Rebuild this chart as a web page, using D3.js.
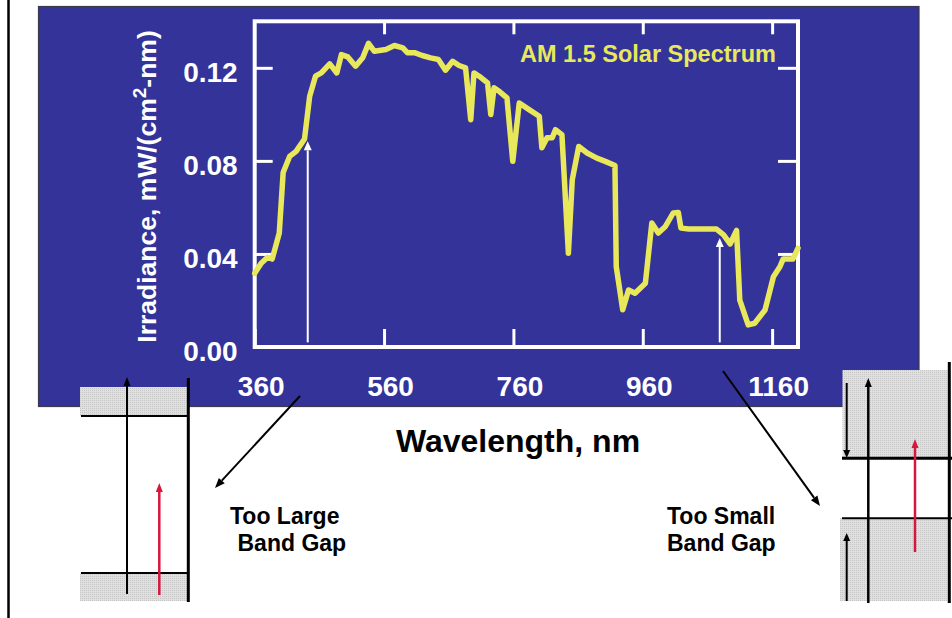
<!DOCTYPE html>
<html>
<head>
<meta charset="utf-8">
<script src="https://cdn.jsdelivr.net/npm/d3@7"></script>
<style>
  html, body { margin: 0; padding: 0; background: #ffffff; }
  svg { display: block; }
  text { font-family: "Liberation Sans", Arial, Helvetica, sans-serif; font-weight: bold; }
</style>
</head>
<body>
<svg id="chart" width="952" height="618"></svg>
<script>
// ---- data ----
const wavelengths = [360, 370, 380, 387, 398, 404, 414, 424, 437, 445, 454, 463, 476, 487, 494, 504, 516, 527, 536, 545,
  563, 576, 589, 596, 607, 619, 632, 644, 655, 666, 676, 686, 694, 699, 707, 720, 725, 730, 738, 750,
  759, 769, 786, 800, 804, 812, 820, 825, 835, 845, 851, 861, 874, 889, 902, 917, 919, 929, 938, 948,
  964, 974, 984, 995, 1007, 1015, 1019, 1031, 1074, 1085, 1095, 1105, 1110, 1123, 1133, 1149, 1162, 1172, 1177, 1192, 1200];
const irradiance = [0.0317, 0.0360, 0.0386, 0.0378, 0.0490, 0.0750, 0.0819, 0.0841, 0.0894, 0.1078, 0.1164, 0.1178, 0.1217, 0.1178, 0.1257, 0.1247, 0.1207, 0.1243, 0.1305, 0.1271,
  0.1279, 0.1296, 0.1286, 0.1265, 0.1265, 0.1253, 0.1243, 0.1236, 0.1190, 0.1228, 0.1210, 0.1200, 0.0977, 0.1178, 0.1164, 0.1135, 0.0999, 0.1114, 0.1099, 0.1071,
  0.0798, 0.1049, 0.1017, 0.0992, 0.0856, 0.0899, 0.0899, 0.0934, 0.0913, 0.0403, 0.0719, 0.0862, 0.0834, 0.0812, 0.0798, 0.0780, 0.0346, 0.0160, 0.0245, 0.0231,
  0.0274, 0.0533, 0.0490, 0.0518, 0.0576, 0.0578, 0.0511, 0.0507, 0.0507, 0.0482, 0.0443, 0.0501, 0.0202, 0.0095, 0.0102, 0.0159, 0.0302, 0.0345, 0.0378, 0.0378, 0.0425];
const xDomain = [360, 1200];
const yDomain = [0, 0.14];
const xTicks = [360, 560, 760, 960, 1160];
const yTicks = [0, 0.04, 0.08, 0.12];
// band-gap marker arrows inside the plot (wavelength, value from, value to)
const gapArrowNm = [442, 1079];
const gapArrowFrom = [0.002, 0.002];
const gapArrowTo = [0.0884, 0.0469];
const chartTitle = "AM 1.5 Solar Spectrum";
const xTitle = "Wavelength, nm";

// ---- drawing ----
const svg = d3.select("#chart");
const yellow = "#e8e85a";
const blue = "#333399";

// outer left rule
svg.append("line").attr("x1", 8.5).attr("x2", 8.5).attr("y1", 0).attr("y2", 618)
  .attr("stroke", "#000").attr("stroke-width", 2.5);

// blue panel
svg.append("rect").attr("x", 38.5).attr("y", 6.5).attr("width", 880.5).attr("height", 400)
  .attr("fill", blue).attr("stroke", "#3a3a4a").attr("stroke-width", 1.2);

const x = d3.scaleLinear().domain(xDomain).range([254.7, 798]);
const y = d3.scaleLinear().domain(yDomain).range([347, 21.3]);

const axisStyle = g => {
  g.select(".domain").remove();
  g.selectAll(".tick line").attr("stroke", "#fff").attr("stroke-width", 3);
  g.selectAll("text").attr("fill", "#fff").attr("font-size", 28)
    .attr("font-family", '"Liberation Sans", Arial, sans-serif').attr("font-weight", "bold");
};

// left axis (ticks + labels)
svg.append("g").attr("transform", `translate(${x.range()[0]},0)`)
  .call(d3.axisLeft(y).tickValues(yTicks).tickSize(-18).tickPadding(17).tickFormat(d3.format(".2f")))
  .call(axisStyle)
  .call(g => g.selectAll("text").attr("dy", "0.47em"));
// right axis ticks
svg.append("g").attr("transform", `translate(${x.range()[1]},0)`)
  .call(d3.axisRight(y).tickValues(yTicks.filter(v => v > 0)).tickSize(-20).tickFormat(""))
  .call(axisStyle);
// bottom axis
svg.append("g").attr("transform", `translate(0,${y.range()[0]})`)
  .call(d3.axisBottom(x).tickValues(xTicks).tickSize(-18).tickPadding(29).tickFormat(d3.format("d")))
  .call(axisStyle)
  .call(g => g.selectAll("text").attr("dx", 6));
// top axis ticks
svg.append("g").attr("transform", `translate(0,${y.range()[1]})`)
  .call(d3.axisTop(x).tickValues(xTicks.filter(v => v > 360)).tickSize(-13).tickFormat(""))
  .call(axisStyle);

// frame
svg.append("rect")
  .attr("x", x.range()[0]).attr("y", y.range()[1])
  .attr("width", x.range()[1] - x.range()[0]).attr("height", y.range()[0] - y.range()[1])
  .attr("fill", "none").attr("stroke", "#fff").attr("stroke-width", 4);

// arrow helper
function arrow(g, x1, y1, x2, y2, color, w, hl, hw) {
  const ang = Math.atan2(y2 - y1, x2 - x1);
  const bx = x2 - hl * Math.cos(ang), by = y2 - hl * Math.sin(ang);
  g.append("line").attr("x1", x1).attr("y1", y1).attr("x2", bx).attr("y2", by)
    .attr("stroke", color).attr("stroke-width", w);
  const px = -Math.sin(ang) * hw / 2, py = Math.cos(ang) * hw / 2;
  g.append("polygon").attr("points", `${x2},${y2} ${bx + px},${by + py} ${bx - px},${by - py}`)
    .attr("fill", color);
}

// white gap arrows inside plot
const ga = svg.append("g");
gapArrowNm.forEach((nm, i) => {
  arrow(ga, x(nm), y(gapArrowFrom[i]), x(nm), y(gapArrowTo[i]), "#fff", 2, 9, 8);
});

// spectrum line
const data = wavelengths.map((w, i) => ({ w, v: irradiance[i] }));
svg.append("path").datum(data)
  .attr("d", d3.line().x(d => x(d.w)).y(d => y(d.v)))
  .attr("fill", "none").attr("stroke", yellow).attr("stroke-width", 5.5)
  .attr("stroke-linejoin", "round").attr("stroke-linecap", "round");

// chart title
svg.append("text").attr("x", 520).attr("y", 62).attr("font-size", 23.5).attr("fill", yellow)
  .text(chartTitle);

// y title
const yt = svg.append("text").attr("transform", "translate(156,186.5) rotate(-90)")
  .attr("text-anchor", "middle").attr("font-size", 26.5).attr("fill", "#fff");
yt.append("tspan").text("Irradiance, mW/(cm");
yt.append("tspan").attr("font-size", 19).attr("dy", -10).text("2");
yt.append("tspan").attr("dy", 10).text("-nm)");

// x title
svg.append("text").attr("x", 518).attr("y", 452).attr("text-anchor", "middle")
  .attr("font-size", 32).attr("fill", "#000").text(xTitle);

// ---- band diagrams ----
const defs = svg.append("defs");
const pat = defs.append("pattern").attr("id", "stip").attr("width", 2).attr("height", 2)
  .attr("patternUnits", "userSpaceOnUse");
pat.append("rect").attr("width", 2).attr("height", 2).attr("fill", "#e0e0e0");
pat.append("rect").attr("width", 1).attr("height", 1).attr("fill", "#c6c6c6");

const bd = svg.append("g");
function hline(x1, x2, yy, w) {
  bd.append("line").attr("x1", x1).attr("x2", x2).attr("y1", yy).attr("y2", yy)
    .attr("stroke", "#000").attr("stroke-width", w);
}
function vline(xx, y1, y2, w) {
  bd.append("line").attr("x1", xx).attr("x2", xx).attr("y1", y1).attr("y2", y2)
    .attr("stroke", "#000").attr("stroke-width", w);
}
const red = "#d8163c";

// left: too large band gap
bd.append("rect").attr("x", 80).attr("y", 387).attr("width", 107).attr("height", 29).attr("fill", "url(#stip)");
bd.append("rect").attr("x", 80).attr("y", 573).attr("width", 107).attr("height", 28).attr("fill", "url(#stip)");
hline(81, 189, 416, 2);
hline(81, 189, 573, 2);
vline(188.3, 378, 602, 3);
arrow(bd, 127, 594, 127, 377, "#000", 2, 9, 7);
arrow(bd, 159.3, 595, 159.3, 483, red, 2.5, 9, 7);
arrow(bd, 300, 396, 215, 488, "#000", 2, 10, 8);

// right: too small band gap
bd.append("rect").attr("x", 842.5).attr("y", 370).attr("width", 105).attr("height", 88).attr("fill", "url(#stip)");
bd.append("rect").attr("x", 840).attr("y", 518).attr("width", 107.5).attr("height", 83).attr("fill", "url(#stip)");
hline(842, 952, 458.3, 3);
hline(842, 952, 518.3, 2);
vline(949.3, 362, 603, 3);
arrow(bd, 868.3, 603, 868.3, 378, "#000", 2.5, 9, 7);
arrow(bd, 846.7, 383, 846.7, 458, "#000", 2, 8, 7);
arrow(bd, 846.7, 601, 846.7, 533, "#000", 2, 8, 7);
arrow(bd, 915, 552, 915, 439, red, 2.5, 9, 7);
arrow(bd, 723, 371, 820, 506, "#000", 2, 10, 8);

// labels
const lab = svg.append("g").attr("font-size", 23).attr("fill", "#000");
lab.append("text").attr("x", 230).attr("y", 524).text("Too Large");
lab.append("text").attr("x", 237.5).attr("y", 550.5).text("Band Gap");
lab.append("text").attr("x", 667).attr("y", 524).text("Too Small");
lab.append("text").attr("x", 667).attr("y", 550.5).text("Band Gap");
</script>
</body>
</html>
